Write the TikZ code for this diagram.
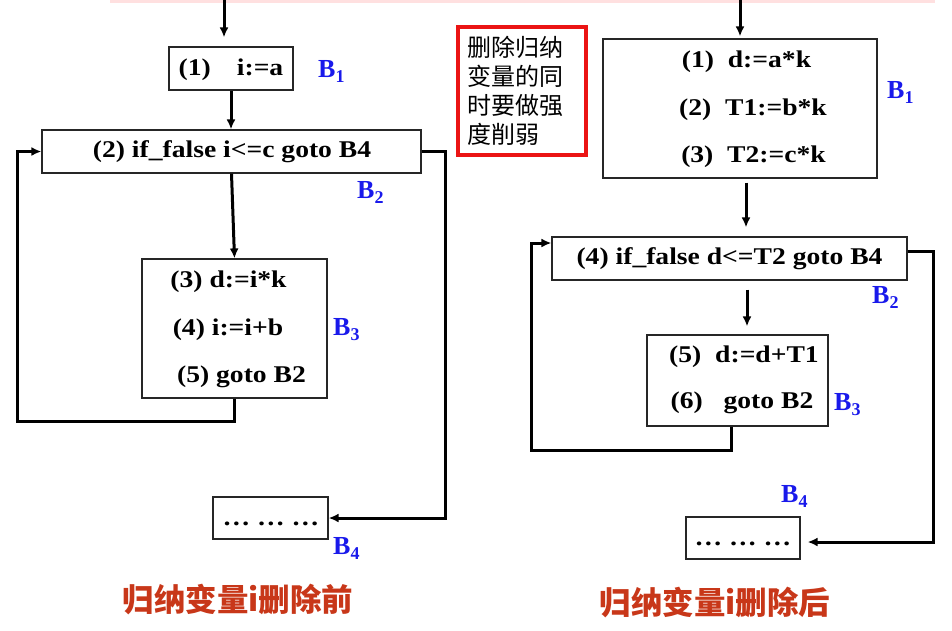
\documentclass[tikz,border=0pt]{standalone}
\usepackage{fontspec}
\setmainfont{Liberation Serif}[FakeStretch=1.15]
\newfontfamily\labfont{Liberation Serif}
\newfontfamily\cjk{Noto Sans CJK SC}
\usetikzlibrary{arrows.meta}
\definecolor{labblue}{RGB}{25,25,235}
\definecolor{titlered}{RGB}{200,55,25}
\definecolor{notered}{RGB}{235,20,20}
\newcommand\blab[1]{B\raisebox{-5pt}{\fontsize{18}{18}\selectfont #1}}
\begin{document}
\begin{tikzpicture}[x=1pt,y=-1pt,
  code/.style={font=\fontsize{24}{26}\selectfont\bfseries, inner sep=0pt},
  blk/.style={draw=black!85, line width=1.2pt, inner sep=0pt, fill=white},
  lab/.style={font=\labfont\fontsize{26}{28}\selectfont\bfseries, text=labblue, inner sep=0pt, anchor=base west},
  flow/.style={line width=3pt, -{Latex[length=10pt,width=9pt]}},
  ttl/.style={font=\cjk\fontsize{31.5}{34}\selectfont\bfseries, text=titlered, inner sep=0pt},
  note/.style={draw=notered, line width=3.5pt, minimum width=128pt, minimum height=128pt,
    text width=110pt, align=left, inner sep=0pt, font=\cjk\fontsize{24}{29}\selectfont}]
\useasboundingbox (0,0) rectangle (952,630);
\fill[red!12] (110,0) rectangle (935,3);

% ---------- left diagram ----------
\node[blk, minimum width=124pt, minimum height=43pt] (L1) at (231,68.5) {};
\node[blk, minimum width=379pt, minimum height=43pt] (L2) at (231.5,151.5) {};
\node[blk, minimum width=185pt, minimum height=139pt] (L3) at (234.5,328.5) {};
\node[blk, minimum width=115pt, minimum height=42pt] (L4) at (270.5,518) {};

\node[code] (l1t) at (231,70) {(1)\hspace{26pt}i:=a};
\node[code] (l2t) at (232,152) {(2) if\_false i<=c goto B4};
\node[code] (l3a) at (228.5,282) {(3) d:=i*k};
\node[code] (l3b) at (228,330) {(4) i:=i+b};
\node[code] (l3c) at (241.5,377) {(5) goto B2};
\node[code] (l4t) at (271,524) {… … …};

\node[lab] (LB1) at (318,77) {\blab{1}};
\node[lab] (LB2) at (357,198) {\blab{2}};
\node[lab] (LB3) at (333,335) {\blab{3}};
\node[lab] (LB4) at (333,554) {\blab{4}};

\coordinate (Ltop) at (224,0);
\draw[flow, shorten >=9pt] (Ltop) -- (Ltop |- L1.north);
\draw[flow] (L1.south) -- (L1.south |- L2.north);
\draw[flow] (L2.south) -- (L3.north);
\draw[flow] (L3.south) -- ++(0,23) -| ([xshift=-24pt]L2.west) -- (L2.west);
\draw[flow] (L2.east) -- ++(24,0) |- (L4.east);

\node[ttl] (LT) at (238,600) {归纳变量i删除前};

% ---------- right diagram ----------
\node[note] (N) at (522,91) {删除归纳\\变量的同\\时要做强\\度削弱};

\node[blk, minimum width=274pt, minimum height=139pt] (R1) at (740,108.5) {};
\node[blk, minimum width=355pt, minimum height=43pt] (R2) at (729.5,258.5) {};
\node[blk, minimum width=181pt, minimum height=91pt] (R3) at (737.5,380.5) {};
\node[blk, minimum width=114pt, minimum height=42pt] (R4) at (743,538) {};

\node[code] (r1a) at (746.5,62) {(1)\ \ d:=a*k};
\node[code] (r1b) at (753,110) {(2)\ \ T1:=b*k};
\node[code] (r1c) at (753.5,157) {(3)\ \ T2:=c*k};
\node[code] (r2t) at (729.5,259) {(4) if\_false d<=T2 goto B4};
\node[code] (r3a) at (744,357) {(5)\ \ d:=d+T1};
\node[code] (r3b) at (742,403) {(6)\ \ \ goto B2};
\node[code] (r4t) at (743,544) {… … …};

\node[lab] (RB1) at (887,98) {\blab{1}};
\node[lab] (RB2) at (872,303) {\blab{2}};
\node[lab] (RB3) at (834,410) {\blab{3}};
\node[lab] (RB4) at (781,502) {\blab{4}};

\coordinate (Rtop) at (740,0);
\draw[flow, shorten >=2pt] (Rtop) -- (Rtop |- R1.north);
\draw[flow, shorten <=4pt, shorten >=9pt] ([xshift=6pt]R1.south) -- ([xshift=6pt]R1.south |- R2.north);
\draw[flow, shorten <=9pt, shorten >=8pt] ([xshift=9.5pt]R3.north |- R2.south) -- ([xshift=9.5pt]R3.north);
\draw[flow] ([xshift=-6.5pt]R3.south) -- ++(0,24) -| ([xshift=-20pt,yshift=15.5pt]R2.west) -- ([yshift=15.5pt]R2.west);
\draw[flow, shorten >=7pt] ([yshift=7.5pt]R2.east) -- ++(26,0) |- ([yshift=-4pt]R4.east);

\node[ttl] (RT) at (715,603) {归纳变量i删除后};
\end{tikzpicture}
\end{document}
